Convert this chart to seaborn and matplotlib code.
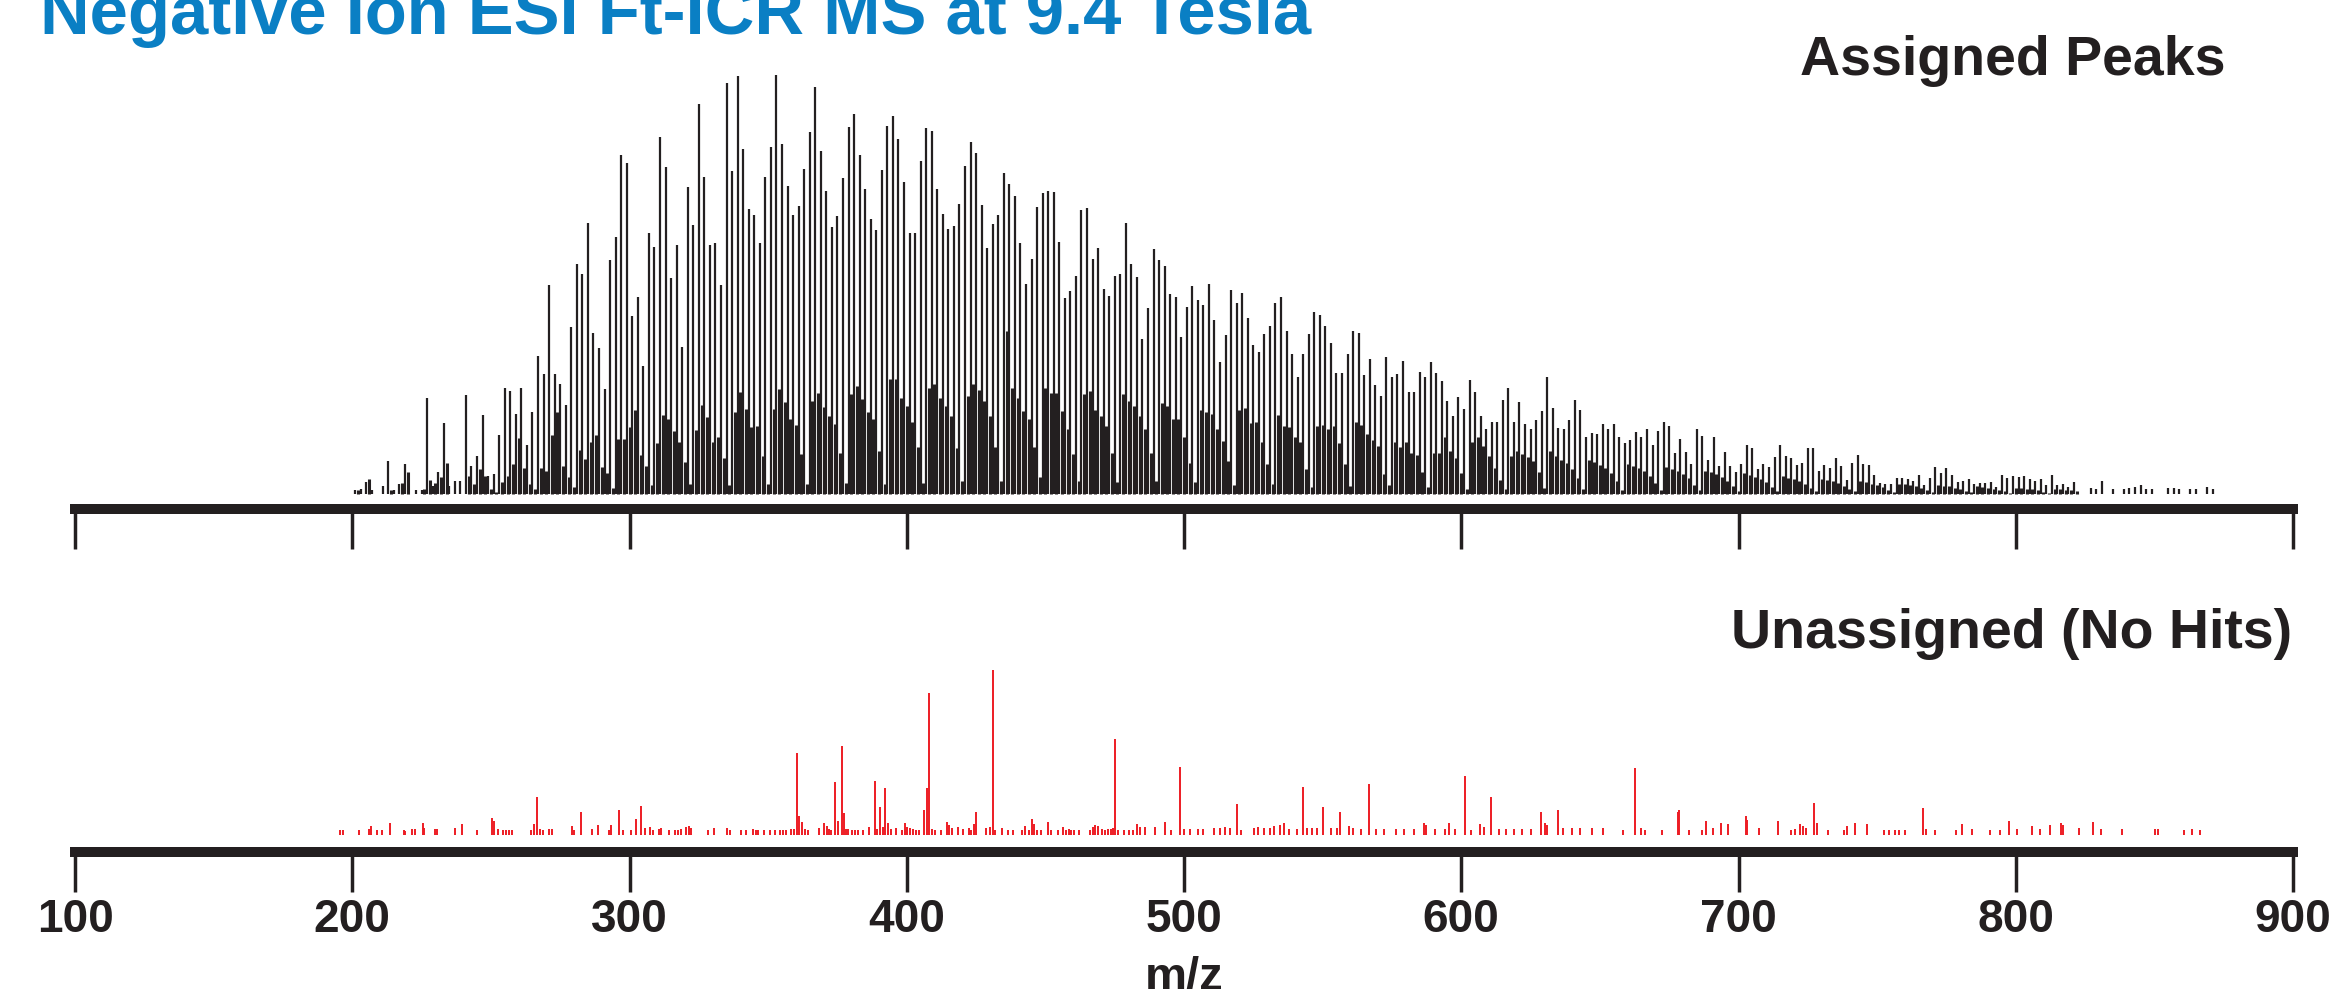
import numpy as np
import pandas as pd
import matplotlib
matplotlib.use("Agg")
import matplotlib.pyplot as plt
import seaborn as sns

# ---------------- text ----------------
TITLE = "Negative Ion ESI Ft-ICR MS at 9.4 Tesla"
LABEL_ASSIGNED = "Assigned Peaks"
LABEL_UNASSIGNED = "Unassigned (No Hits)"
X_LABEL = "m/z"
X_TICKS = [100, 200, 300, 400, 500, 600, 700, 800, 900]

# ---------------- assigned peaks (relative intensity, %) ----------------
# odd nominal masses 201, 203, ... 871
assigned_odd_mz = list(range(201, 872, 2))
assigned_odd_int = [
    1.0, 1.2, 2.9, 1.0, 0.0, 2.0, 7.9, 1.0, 2.4, 7.1,
    0.0, 1.0, 1.0, 23.0, 2.0, 5.2, 16.9, 2.0, 3.2, 3.0,
    23.7, 6.6, 9.1, 18.8, 4.3, 4.8, 14.0, 25.4, 24.6, 19.0,
    25.2, 11.7, 19.6, 32.9, 28.7, 49.8, 28.6, 26.3, 21.3, 39.8,
    54.9, 52.4, 64.7, 38.4, 34.9, 25.0, 55.8, 61.3, 81.0, 79.0,
    42.5, 47.1, 30.5, 62.3, 58.9, 85.2, 78.1, 51.5, 59.5, 35.2,
    73.3, 64.1, 93.1, 75.6, 59.5, 59.9, 49.8, 98.0, 77.1, 99.8,
    82.3, 67.9, 66.6, 59.8, 75.6, 82.8, 100.0, 83.6, 73.4, 66.7,
    68.8, 77.5, 86.3, 97.1, 81.9, 72.4, 63.8, 66.4, 75.5, 87.5,
    90.6, 81.0, 72.8, 65.7, 63.1, 77.4, 87.8, 90.2, 84.7, 74.4,
    62.4, 62.4, 79.4, 87.3, 86.7, 72.8, 66.8, 63.3, 64.0, 69.2,
    78.3, 84.0, 81.3, 68.9, 58.7, 64.5, 66.7, 76.7, 74.0, 71.2,
    59.8, 50.2, 56.0, 68.6, 71.8, 72.3, 72.1, 60.2, 46.7, 48.4,
    52.1, 67.7, 68.3, 56.2, 58.7, 49.0, 47.2, 52.1, 52.4, 64.7,
    54.9, 51.7, 37.1, 44.4, 58.5, 55.9, 54.4, 47.8, 47.1, 37.5,
    44.6, 49.7, 46.3, 45.1, 50.2, 41.5, 31.6, 37.9, 48.7, 45.6,
    48.0, 41.9, 35.5, 34.0, 38.3, 40.1, 45.6, 47.1, 39.0, 33.3,
    28.0, 33.3, 38.1, 43.5, 42.8, 40.2, 36.0, 28.8, 28.8, 33.3,
    39.0, 38.5, 28.5, 32.3, 25.9, 23.3, 32.8, 27.9, 28.6, 31.7,
    24.3, 24.3, 29.0, 27.9, 31.5, 28.9, 27.0, 22.1, 18.7, 23.2,
    20.4, 27.1, 24.4, 18.7, 15.5, 17.1, 17.3, 22.4, 25.2, 17.1,
    22.0, 16.7, 15.6, 17.6, 19.8, 28.0, 20.6, 15.7, 15.4, 17.6,
    22.5, 20.1, 13.7, 14.5, 14.4, 16.6, 15.4, 16.8, 13.6, 12.2,
    12.8, 14.9, 13.5, 15.6, 11.6, 15.0, 17.1, 16.3, 9.7, 13.1,
    10.0, 7.1, 15.6, 13.9, 8.0, 13.7, 6.8, 10.0, 6.6, 5.2,
    7.1, 11.7, 11.0, 5.9, 7.1, 6.5, 8.9, 11.6, 9.1, 8.7,
    6.9, 7.4, 10.9, 10.9, 5.5, 6.9, 6.3, 8.7, 6.7, 3.3,
    7.5, 9.2, 7.2, 6.9, 4.6, 2.7, 2.3, 2.3, 3.8, 3.9,
    3.5, 3.0, 4.5, 2.2, 3.7, 6.4, 5.0, 6.2, 4.5, 2.9,
    3.2, 3.5, 2.4, 2.7, 2.7, 2.8, 1.7, 4.6, 3.7, 4.2,
    4.0, 4.3, 3.5, 3.2, 3.5, 2.1, 4.5, 2.1, 2.3, 1.6,
    2.8, 0.0, 0.0, 1.5, 1.3, 3.0, 0.0, 1.3, 0.0, 1.3,
    1.5, 1.6, 2.1, 1.3, 1.2, 0.0, 0.0, 1.5, 1.5, 1.3,
    0.0, 1.1, 1.1, 0.0, 1.7, 1.3,
]
# even nominal masses 200, 202, ... 870
assigned_even_mz = list(range(200, 871, 2))
assigned_even_int = [
    0.0, 1.0, 0.0, 3.6, 0.0, 0.0, 0.0, 1.0, 0.0, 2.6,
    5.2, 0.0, 0.0, 1.2, 3.4, 2.6, 4.1, 7.5, 0.0, 0.0,
    0.0, 4.4, 2.3, 6.0, 4.3, 1.1, 0.5, 2.8, 4.4, 7.1,
    13.3, 6.3, 2.4, 1.2, 6.2, 5.4, 14.0, 19.6, 6.7, 4.1,
    1.6, 10.5, 8.3, 12.5, 14.0, 6.5, 5.0, 1.4, 13.1, 13.1,
    16.1, 20.0, 9.3, 6.6, 2.1, 12.1, 18.8, 17.9, 15.1, 12.3,
    7.7, 2.4, 15.2, 21.2, 18.4, 12.5, 13.7, 8.7, 2.2, 19.5,
    24.4, 20.2, 16.0, 16.3, 9.1, 2.5, 20.4, 25.0, 22.0, 17.9,
    16.4, 9.5, 2.4, 22.2, 24.2, 20.8, 18.7, 16.7, 9.9, 2.7,
    23.8, 25.8, 22.6, 19.6, 17.9, 10.3, 2.4, 27.4, 27.5, 22.9,
    21.0, 17.3, 11.1, 2.7, 25.2, 26.2, 23.0, 21.0, 18.7, 10.9,
    3.2, 23.3, 26.2, 24.8, 22.2, 18.7, 11.1, 3.2, 38.9, 25.4,
    23.0, 19.8, 17.9, 11.1, 4.0, 25.4, 24.2, 24.2, 19.8, 15.5,
    9.5, 3.2, 23.8, 24.6, 20.0, 18.7, 16.3, 9.9, 2.9, 23.8,
    22.2, 21.0, 18.7, 15.5, 9.7, 3.2, 21.8, 21.0, 17.9, 17.9,
    13.5, 7.5, 2.8, 20.0, 19.5, 19.2, 15.6, 12.7, 7.9, 2.1,
    20.0, 20.6, 17.0, 17.1, 12.3, 7.1, 2.4, 18.9, 16.3, 15.9,
    13.5, 12.3, 5.9, 1.7, 16.3, 16.5, 15.5, 16.2, 12.1, 7.1,
    2.0, 17.1, 16.5, 14.3, 12.9, 11.5, 4.8, 2.2, 12.4, 11.1,
    12.4, 9.9, 9.4, 5.2, 1.6, 9.9, 9.9, 13.5, 10.3, 8.7,
    4.9, 1.2, 12.4, 13.5, 11.5, 9.1, 6.3, 3.4, 1.2, 9.1,
    10.3, 9.5, 8.8, 7.9, 5.2, 1.5, 10.2, 9.0, 8.1, 7.4,
    6.0, 3.8, 1.2, 8.0, 7.6, 7.0, 6.2, 5.0, 3.0, 1.0,
    7.2, 6.8, 6.1, 5.5, 4.4, 2.6, 1.0, 6.5, 6.0, 5.6,
    4.8, 3.9, 2.2, 0.9, 5.6, 5.2, 4.7, 4.1, 3.2, 1.9,
    0.8, 4.9, 4.6, 4.0, 3.5, 2.8, 1.6, 0.8, 4.2, 3.9,
    3.5, 3.0, 2.4, 1.4, 0.7, 3.6, 3.3, 3.0, 2.6, 2.0,
    1.2, 0.6, 3.0, 2.8, 2.5, 2.1, 1.7, 1.0, 0.5, 2.5,
    2.3, 2.1, 1.8, 1.4, 0.9, 0.5, 2.1, 1.9, 1.8, 1.5,
    1.2, 0.8, 0.4, 1.8, 1.6, 1.5, 1.3, 1.0, 0.6, 0.3,
    1.5, 1.4, 1.2, 1.1, 0.9, 0.5, 0.3, 1.3, 1.2, 1.0,
    0.9, 0.7, 0.0, 0.0, 0.0, 0.0, 0.0, 0.0, 0.0, 0.0,
    0.0, 0.0, 0.0, 0.0, 0.0, 0.0, 0.0, 0.0, 0.0, 0.0,
    0.0, 0.0, 0.0, 0.0, 0.0, 0.0,
]

# ---------------- unassigned peaks (relative intensity, %) ----------------
unassigned_mz = [
    195.6, 196.8, 202.4, 206.0, 206.6, 208.9, 210.7, 213.6, 218.8, 219.2,
    221.5, 222.5, 225.4, 225.8, 230.0, 230.6, 237.2, 239.5, 244.9, 250.3,
    251.3, 252.5, 254.4, 255.6, 256.5, 257.5, 264.3, 265.4, 266.6, 267.7,
    268.7, 270.8, 272.2, 279.2, 280.0, 282.4, 286.5, 288.6, 292.5, 293.3,
    296.2, 297.5, 300.4, 302.4, 304.3, 305.5, 307.4, 308.4, 310.5, 311.5,
    314.2, 316.3, 317.4, 318.4, 320.2, 321.3, 322.1, 328.4, 330.4, 335.1,
    336.3, 340.3, 342.2, 344.5, 345.5, 346.5, 348.6, 350.7, 352.3, 354.4,
    355.4, 356.5, 358.3, 359.4, 360.4, 361.2, 362.3, 363.3, 364.3, 368.3,
    370.1, 371.1, 372.0, 372.8, 374.1, 375.1, 376.6, 377.4, 378.2, 378.8,
    380.3, 381.3, 382.4, 384.4, 386.3, 388.4, 389.4, 390.4, 391.3, 392.3,
    393.3, 394.3, 396.2, 398.3, 399.3, 400.1, 401.2, 402.2, 403.2, 404.3,
    406.4, 407.2, 408.2, 409.2, 410.3, 412.4, 414.5, 415.3, 416.2, 418.4,
    420.3, 422.3, 423.2, 424.2, 425.0, 428.5, 430.1, 431.0, 432.0, 434.3,
    436.4, 438.3, 441.6, 442.6, 444.1, 445.1, 446.0, 446.9, 448.4, 450.9,
    451.9, 454.4, 456.5, 457.3, 458.4, 459.4, 460.4, 462.3, 466.2, 467.0,
    468.0, 468.9, 470.3, 471.5, 472.5, 473.6, 474.3, 475.1, 476.2, 478.2,
    480.3, 481.5, 483.0, 484.3, 485.9, 489.6, 493.0, 495.3, 498.7, 500.1,
    502.3, 505.0, 507.0, 511.0, 513.0, 514.7, 516.7, 519.2, 520.4, 525.2,
    526.6, 529.0, 531.0, 532.3, 534.6, 536.0, 538.0, 540.9, 542.9, 544.3,
    546.0, 548.0, 550.3, 553.1, 555.1, 556.3, 559.4, 560.8, 563.7, 566.8,
    569.4, 572.2, 576.5, 579.5, 583.0, 586.7, 587.3, 590.7, 594.1, 595.5,
    597.8, 601.2, 603.5, 606.7, 608.1, 610.6, 613.5, 616.0, 619.0, 622.0,
    625.0, 628.6, 630.3, 630.9, 634.8, 636.6, 640.0, 643.0, 647.0, 651.0,
    658.5, 662.5, 664.7, 666.2, 672.4, 678.1, 678.7, 682.1, 686.7, 688.1,
    690.7, 693.8, 696.3, 702.6, 703.2, 707.5, 714.3, 718.8, 720.3, 722.3,
    723.1, 724.2, 727.4, 728.2, 732.2, 737.9, 739.3, 742.2, 746.2, 752.4,
    754.4, 756.4, 757.8, 760.1, 766.4, 767.5, 770.7, 778.6, 780.6, 784.3,
    790.6, 794.3, 797.4, 800.6, 806.0, 808.8, 812.2, 816.2, 817.1, 822.8,
    827.9, 830.8, 838.4, 850.4, 851.2, 860.6, 863.5, 866.3,
]
unassigned_int = [
    3.0, 3.0, 3.0, 3.6, 5.5, 3.0, 3.0, 7.3, 3.0, 2.6,
    3.6, 3.6, 7.3, 4.0, 3.4, 3.6, 4.2, 6.7, 3.0, 10.3,
    8.7, 3.6, 3.0, 3.0, 3.0, 3.0, 3.0, 6.7, 23.0, 3.6,
    3.0, 3.6, 3.6, 5.5, 3.0, 13.7, 3.6, 6.1, 3.0, 6.1,
    15.2, 3.0, 3.0, 9.9, 17.6, 4.2, 5.1, 3.0, 3.6, 4.2,
    3.0, 3.0, 3.0, 3.6, 4.6, 5.5, 4.2, 3.0, 4.2, 4.2,
    3.0, 3.0, 3.0, 3.4, 3.0, 3.0, 3.0, 3.0, 3.0, 3.0,
    3.0, 3.0, 3.6, 3.6, 49.5, 11.5, 8.1, 3.6, 3.0, 4.0,
    7.3, 5.5, 3.6, 3.0, 32.1, 8.5, 53.9, 13.5, 3.6, 3.6,
    3.0, 3.0, 3.0, 3.0, 4.8, 32.7, 3.8, 17.0, 5.1, 28.7,
    7.3, 3.6, 4.2, 3.0, 7.3, 5.1, 4.2, 3.6, 3.0, 3.0,
    15.2, 28.5, 85.9, 3.6, 3.0, 3.0, 7.9, 6.1, 4.2, 4.6,
    3.6, 4.2, 3.0, 6.7, 13.7, 4.2, 4.8, 100.0, 3.0, 4.2,
    3.0, 3.0, 3.0, 5.5, 3.0, 9.7, 6.7, 3.0, 3.0, 7.9,
    3.0, 3.0, 4.8, 3.0, 3.6, 3.0, 3.0, 3.0, 3.0, 4.8,
    6.1, 5.5, 3.6, 3.0, 3.6, 3.6, 4.2, 58.2, 3.0, 3.0,
    3.0, 3.0, 6.7, 4.8, 4.6, 4.6, 8.1, 3.0, 41.2, 3.4,
    3.4, 3.4, 3.4, 4.0, 4.0, 5.1, 4.0, 18.8, 3.0, 4.0,
    5.1, 4.0, 4.0, 5.7, 6.1, 7.3, 3.4, 3.6, 29.1, 4.0,
    4.0, 4.0, 17.0, 4.0, 4.0, 13.9, 5.5, 4.0, 3.4, 30.9,
    3.4, 3.4, 3.4, 3.4, 3.4, 7.3, 6.1, 3.4, 3.4, 7.3,
    3.4, 35.8, 3.0, 6.7, 4.6, 23.0, 3.4, 3.4, 3.4, 3.4,
    3.4, 13.9, 7.5, 6.3, 15.2, 4.0, 4.0, 4.0, 4.0, 4.0,
    3.0, 40.4, 4.0, 3.0, 3.0, 13.9, 15.2, 3.0, 3.0, 8.5,
    4.4, 7.3, 6.7, 11.5, 9.1, 4.0, 8.5, 3.0, 3.6, 6.7,
    5.5, 4.0, 19.4, 7.3, 3.0, 3.0, 5.5, 7.3, 6.7, 3.0,
    3.0, 3.0, 3.0, 3.0, 16.4, 3.6, 3.0, 3.0, 6.7, 3.6,
    3.0, 3.0, 8.5, 3.6, 5.5, 3.6, 6.1, 7.3, 6.1, 4.0,
    7.9, 3.6, 3.6, 3.6, 3.6, 3.0, 3.6, 3.0,
]

assert len(assigned_odd_mz) == len(assigned_odd_int)
assert len(assigned_even_mz) == len(assigned_even_int)
assert len(unassigned_mz) == len(unassigned_int)

# ---------------- style ----------------
DARK = "#231f20"
RED = "#ed1c24"
BLUE = "#0a7fc4"

sns.set_theme(style="white")
plt.rcParams["font.family"] = ["Liberation Sans", "DejaVu Sans"]
plt.rcParams["font.weight"] = "bold"

odd = pd.DataFrame({"mz": assigned_odd_mz, "intensity": assigned_odd_int})
odd = odd[odd["intensity"] > 0]
even = pd.DataFrame({"mz": assigned_even_mz, "intensity": assigned_even_int})
even = even[even["intensity"] > 0]
unassigned = pd.DataFrame({"mz": unassigned_mz, "intensity": unassigned_int})

W, H = 2338, 989
fig = plt.figure(figsize=(W / 100, H / 100), dpi=100)
fig.patch.set_facecolor("white")

x0, x1 = 75, 2293
ax_top = fig.add_axes([x0 / W, 1 - 509 / H, (x1 - x0) / W, (509 - 75) / H])
ax_bot = fig.add_axes([x0 / W, 1 - 852 / H, (x1 - x0) / W, (852 - 670) / H])

ax_top.vlines(even["mz"], 0, even["intensity"], colors=DARK,
              linewidth=2.2, clip_on=False)
ax_top.vlines(odd["mz"], 0, odd["intensity"], colors=DARK,
              linewidth=1.6, clip_on=False)
ax_bot.vlines(unassigned["mz"], 0, unassigned["intensity"], colors=RED,
              linewidth=1.4, clip_on=False)

for ax, lo in ((ax_top, -15 / 419 * 100), (ax_bot, -17 / 165 * 100)):
    ax.set_xlim(100, 900)
    ax.set_ylim(lo, 100)
    sns.despine(ax=ax, left=True, top=True, right=True, bottom=False)
    ax.spines["bottom"].set_linewidth(7.2)
    ax.spines["bottom"].set_color(DARK)
    ax.set_xticks(X_TICKS)
    ax.set_xticklabels([str(t) for t in X_TICKS])
    ax.set_yticks([])
    ax.tick_params(axis="x", which="major", direction="out", bottom=True,
                   length=29, width=2.5, color=DARK, pad=4,
                   labelsize=33, labelcolor=DARK)
    ax.grid(False)
    ax.patch.set_alpha(0)
    ax.set_xlabel("")
    ax.set_ylabel("")

ax_top.tick_params(axis="x", labelbottom=False)
for lab in ax_bot.get_xticklabels():
    lab.set_fontweight("bold")

fig.text(40 / W, 1 - 34 / H, TITLE, color=BLUE, fontsize=49.5,
         fontweight="bold", ha="left", va="baseline")
fig.text(2226 / W, 1 - 75 / H, LABEL_ASSIGNED, color=DARK, fontsize=40,
         fontweight="bold", ha="right", va="baseline")
fig.text(2292 / W, 1 - 648 / H, LABEL_UNASSIGNED, color=DARK, fontsize=40,
         fontweight="bold", ha="right", va="baseline")
fig.text(1184 / W, 0.0, X_LABEL, color=DARK, fontsize=34,
         fontweight="bold", ha="center", va="baseline")

fig.savefig("out.png", dpi=100, facecolor="white")
